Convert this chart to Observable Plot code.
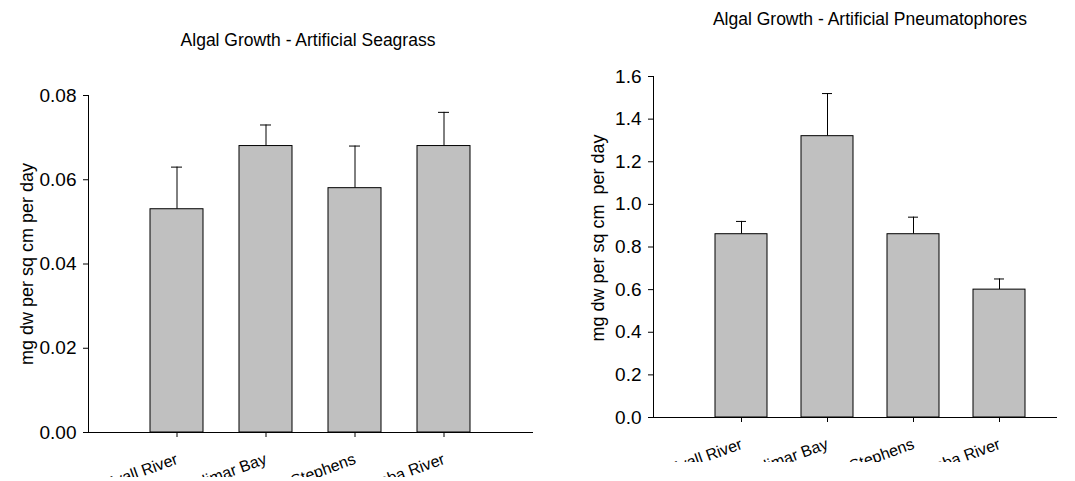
<!DOCTYPE html>
<html>
<head>
<meta charset="utf-8">
<script src="https://cdn.jsdelivr.net/npm/d3@7"></script>
<script src="https://cdn.jsdelivr.net/npm/@observablehq/plot@0.6"></script>
<style>
  body { margin: 0; background: #fff; font-family: "Liberation Sans", Arial, sans-serif; }
  #page { position: relative; width: 1075px; height: 481px; overflow: hidden; background: #fff; }
  .panel { position: absolute; top: 0; }
  .title { position: absolute; font-size: 17.5px; white-space: nowrap; transform: translate(-50%, -50%); color: #000; }
</style>
</head>
<body>
<div id="page"></div>
<script>
// Sampling sites (same order in both panels)
const sites = ["Myall River", "Pindimar Bay", "Port Stephens", "Wallamba River"];

// Artificial seagrass: mean growth and standard error (mg dw per sq cm per day)
const seagrassMean = [0.053, 0.068, 0.058, 0.068];
const seagrassSE   = [0.010, 0.005, 0.010, 0.008];
const seagrassTicks = [0, 0.02, 0.04, 0.06, 0.08];

// Artificial pneumatophores: mean growth and standard error
const pneumMean = [0.86, 1.32, 0.86, 0.60];
const pneumSE   = [0.06, 0.20, 0.08, 0.05];
const pneumTicks = [0, 0.2, 0.4, 0.6, 0.8, 1.0, 1.2, 1.4, 1.6];

const titles = ["Algal Growth - Artificial Seagrass", "Algal Growth - Artificial Pneumatophores"];
const yLabels = ["mg dw per sq cm per day", "mg dw per sq cm  per day"];

const font = "Liberation Sans, Arial, sans-serif";

function panel({means, ses, ticks, yMax, fmt, ylabel, width, height, marginLeft, marginRight, marginTop, marginBottom, paddingOuter, align, labelDx, labelDy}) {
  const rows = sites.map((site, i) => ({site, mean: means[i], top: means[i] + ses[i]}));
  return Plot.plot({
    width, height, marginLeft, marginRight, marginTop, marginBottom,
    style: {overflow: "hidden", fontFamily: font, background: "white", color: "black"},
    x: {domain: sites, paddingInner: 0.4, paddingOuter, align, axis: null},
    y: {domain: [0, yMax], axis: null},
    marks: [
      // upper error whiskers
      Plot.ruleX(rows, {x: "site", y1: "mean", y2: "top", stroke: "black", strokeWidth: 1}),
      Plot.tickY(rows, {x: "site", y: "top", stroke: "black", strokeWidth: 1, insetLeft: 21, insetRight: 21}),
      // bars
      Plot.barY(rows, {x: "site", y: "mean", fill: "#c0c0c0", stroke: "black", strokeWidth: 1}),
      // axes
      Plot.frame({anchor: "left", stroke: "black"}),
      Plot.ruleY([0], {stroke: "black"}),
      Plot.axisY({ticks, tickFormat: d3.format(fmt), tickSize: 5, tickPadding: 7, fontSize: 19, label: null}),
      Plot.axisX({tickRotate: -20, tickSize: 5, tickPadding: 21, fontSize: 16, label: null}),
      Plot.text([ylabel], {frameAnchor: "left", textAnchor: "middle", rotate: -90, dx: labelDx, dy: labelDy, fontSize: 18, fill: "black"})
    ]
  });
}

const page = document.getElementById("page");

const left = panel({
  means: seagrassMean, ses: seagrassSE, ticks: seagrassTicks, yMax: 0.08, fmt: ".2f", ylabel: yLabels[0],
  width: 545, height: 477, marginLeft: 88, marginRight: 12, marginTop: 95, marginBottom: 45,
  paddingOuter: 0.7, align: 0.5, labelDx: -61, labelDy: 0
});
const right = panel({
  means: pneumMean, ses: pneumSE, ticks: pneumTicks, yMax: 1.6, fmt: ".1f", ylabel: yLabels[1],
  width: 515, height: 462, marginLeft: 93, marginRight: 18, marginTop: 76, marginBottom: 45,
  paddingOuter: 0.527, align: 0.66, labelDx: -55, labelDy: -9
});

for (const [svg, x] of [[left, 0], [right, 560]]) {
  const d = document.createElement("div");
  d.className = "panel";
  d.style.left = x + "px";
  d.appendChild(svg);
  page.appendChild(d);
}

for (const [text, cx, cy] of [[titles[0], 308, 40], [titles[1], 870, 19]]) {
  const t = document.createElement("div");
  t.className = "title";
  t.style.left = cx + "px";
  t.style.top = cy + "px";
  t.textContent = text;
  page.appendChild(t);
}
</script>
</body>
</html>
